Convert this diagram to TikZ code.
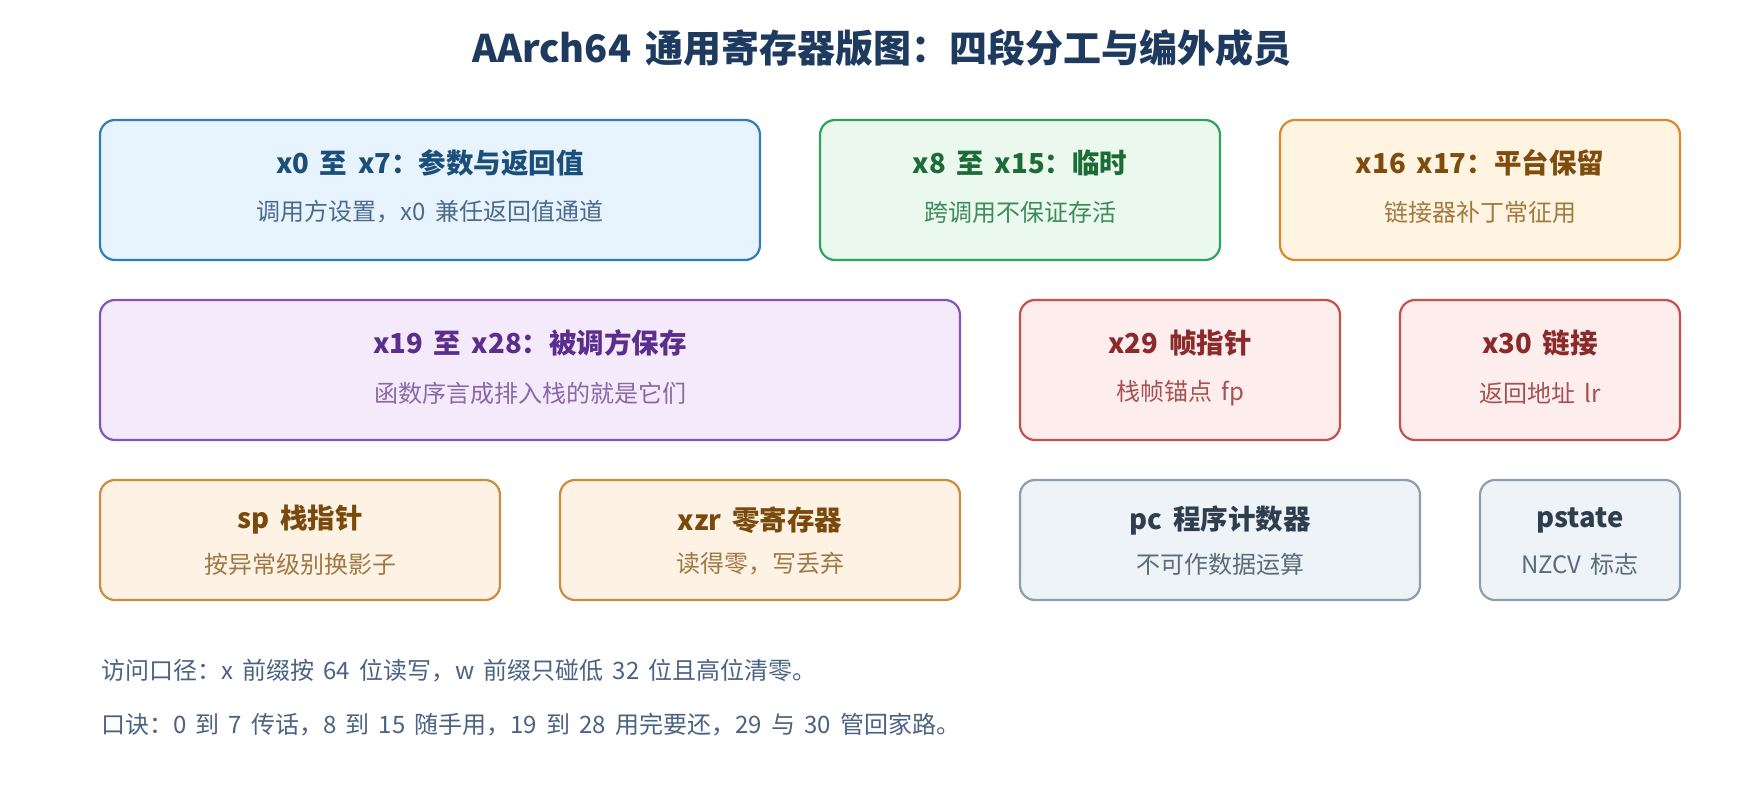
\documentclass[tikz,border=0pt]{standalone}
\usepackage{fontspec}
\setmainfont{Noto Sans CJK SC}[WordSpace=1.7]
\definecolor{maintitle}{HTML}{1E3A5F}
\definecolor{bodytext}{HTML}{4A6283}
\definecolor{bAf}{HTML}{E8F4FD}\definecolor{bAd}{HTML}{2F7DBA}\definecolor{bAt}{HTML}{1B4F7A}\definecolor{bAs}{HTML}{4C6A8C}
\definecolor{bBf}{HTML}{EAF8EE}\definecolor{bBd}{HTML}{2EA35E}\definecolor{bBt}{HTML}{1D6B35}\definecolor{bBs}{HTML}{3F8A5C}
\definecolor{bCf}{HTML}{FFF3E2}\definecolor{bCd}{HTML}{D98B2B}\definecolor{bCt}{HTML}{7F4C0D}\definecolor{bCs}{HTML}{A27A3E}
\definecolor{bDf}{HTML}{F4EAFC}\definecolor{bDd}{HTML}{7F55BF}\definecolor{bDt}{HTML}{5B2D8C}\definecolor{bDs}{HTML}{8868A8}
\definecolor{bEf}{HTML}{FDEDEC}\definecolor{bEd}{HTML}{C5504E}\definecolor{bEt}{HTML}{8B2A2A}\definecolor{bEs}{HTML}{A65252}
\definecolor{bFf}{HTML}{FEF2E5}\definecolor{bFd}{HTML}{CB8C40}\definecolor{bFt}{HTML}{7A4A0C}\definecolor{bFs}{HTML}{A07843}
\definecolor{bGf}{HTML}{EEF3F7}\definecolor{bGd}{HTML}{8C9DB0}\definecolor{bGt}{HTML}{2F3E4F}\definecolor{bGs}{HTML}{5B6B7C}
\tikzset{
  regbox/.style={line width=2.2pt, rounded corners=15pt, inner sep=0pt},
  boxtitle/.style={font=\fontsize{27.5}{32}\selectfont\bfseries, inner sep=0pt},
  boxsub/.style={font=\fontsize{24}{28}\selectfont, inner sep=0pt},
  bodyline/.style={font=\fontsize{24}{28}\selectfont, text=bodytext, anchor=west, inner sep=0pt},
  kA/.style={regbox, draw=bAd, fill=bAf},
  kB/.style={regbox, draw=bBd, fill=bBf},
  kC/.style={regbox, draw=bCd, fill=bCf},
  kD/.style={regbox, draw=bDd, fill=bDf},
  kE/.style={regbox, draw=bEd, fill=bEf},
  kF/.style={regbox, draw=bFd, fill=bFf},
  kG/.style={regbox, draw=bGd, fill=bGf},
}
\begin{document}
\begin{tikzpicture}[x=1pt,y=-1pt]
\useasboundingbox (0,0) rectangle (1760,800);
\node[font=\fontsize{38}{44}\selectfont\bfseries, text=maintitle, inner sep=0pt] (title) at (882,48) {AArch64 通用寄存器版图：四段分工与编外成员};

% Row 1
\node[kA, minimum width=660pt, minimum height=140pt] (b1) at (430,190) {};
\node[boxtitle, text=bAt] (b1t) at (430,163) {x0 至 x7：参数与返回值};
\node[boxsub, text=bAs] (b1s) at (430,212) {调用方设置，x0 兼任返回值通道};

\node[kB, minimum width=400pt, minimum height=140pt] (b2) at (1020,190) {};
\node[boxtitle, text=bBt] (b2t) at (1020,163) {x8 至 x15：临时};
\node[boxsub, text=bBs] (b2s) at (1020,212) {跨调用不保证存活};

\node[kC, minimum width=400pt, minimum height=140pt] (b3) at (1480,190) {};
\node[boxtitle, text=bCt] (b3t) at (1480,163) {x16 x17：平台保留};
\node[boxsub, text=bCs] (b3s) at (1480,212) {链接器补丁常征用};

% Row 2
\node[kD, minimum width=860pt, minimum height=140pt] (b4) at (530,370) {};
\node[boxtitle, text=bDt] (b4t) at (530,343) {x19 至 x28：被调方保存};
\node[boxsub, text=bDs] (b4s) at (530,393) {函数序言成排入栈的就是它们};

\node[kE, minimum width=320pt, minimum height=140pt] (b5) at (1180,370) {};
\node[boxtitle, text=bEt] (b5t) at (1180,343) {x29 帧指针};
\node[boxsub, text=bEs] (b5s) at (1180,393) {栈帧锚点 fp};

\node[kE, minimum width=280pt, minimum height=140pt] (b6) at (1540,370) {};
\node[boxtitle, text=bEt] (b6t) at (1540,343) {x30 链接};
\node[boxsub, text=bEs] (b6s) at (1540,393) {返回地址 lr};

% Row 3
\node[kF, minimum width=400pt, minimum height=120pt] (b7) at (300,540) {};
\node[boxtitle, text=bFt] (b7t) at (300,520) {sp 栈指针};
\node[boxsub, text=bFs] (b7s) at (300,564) {按异常级别换影子};

\node[kF, minimum width=400pt, minimum height=120pt] (b8) at (760,540) {};
\node[boxtitle, text=bFt] (b8t) at (760,520) {xzr 零寄存器};
\node[boxsub, text=bFs] (b8s) at (760,564) {读得零，写丢弃};

\node[kG, minimum width=400pt, minimum height=120pt] (b9) at (1220,540) {};
\node[boxtitle, text=bGt] (b9t) at (1220,520) {pc 程序计数器};
\node[boxsub, text=bGs] (b9s) at (1220,564) {不可作数据运算};

\node[kG, minimum width=200pt, minimum height=120pt] (b10) at (1580,540) {};
\node[boxtitle, text=bGt] (b10t) at (1580,520) {pstate};
\node[boxsub, text=bGs] (b10s) at (1580,564) {NZCV 标志};

% Notes
\node[bodyline] (n1) at (101,671) {访问口径：x 前缀按 64 位读写，w 前缀只碰低 32 位且高位清零。};
\node[bodyline] (n2) at (101,725) {口诀：0 到 7 传话，8 到 15 随手用，19 到 28 用完要还，29 与 30 管回家路。};
\end{tikzpicture}
\end{document}
